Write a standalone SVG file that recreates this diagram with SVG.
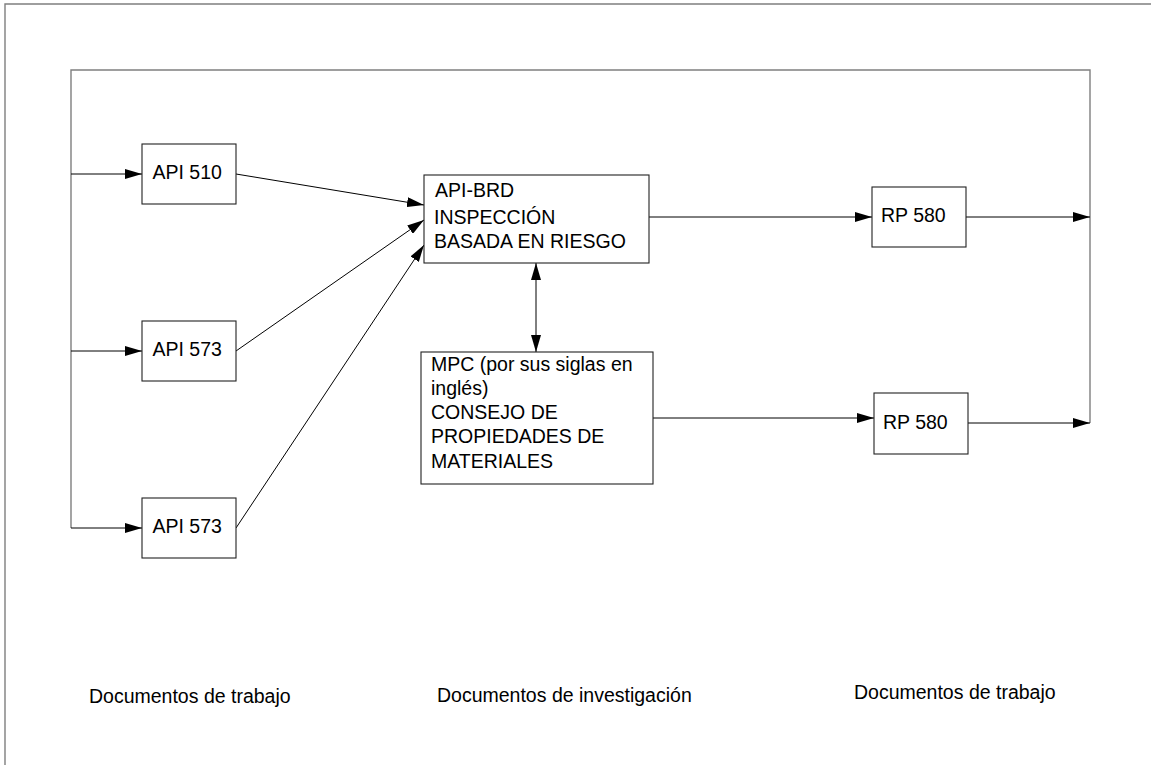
<svg xmlns="http://www.w3.org/2000/svg" width="1151" height="765" viewBox="0 0 1151 765">
<style>
.frame{fill:none;stroke:#7f7f7f;stroke-width:1.4}
.box{fill:#fff;stroke:#222;stroke-width:1.1}
.con{fill:none;stroke:#000;stroke-width:1}
.t{font-family:"Liberation Sans",Arial,sans-serif;font-size:19.5px;fill:#000}
.lbl{font-family:"Liberation Sans",Arial,sans-serif;font-size:19.5px;fill:#000}
</style>
<defs>
<marker id="ah" markerUnits="userSpaceOnUse" markerWidth="17" markerHeight="10" refX="17" refY="5" orient="auto-start-reverse">
<path d="M0,0 L17,5 L0,10 Z" fill="#000"/>
</marker>
</defs>
<rect width="1151" height="765" fill="#fff"/>
<g id="frame">
<path class="frame" d="M5,765 V4 H1151"/>
<path class="frame" d="M71,528 V70 H1090 V423"/>
</g>
<g id="connectors">
<line class="con" x1="71" y1="174" x2="142" y2="174" marker-end="url(#ah)"/>
<line class="con" x1="71" y1="351" x2="142" y2="351" marker-end="url(#ah)"/>
<line class="con" x1="71" y1="528" x2="142" y2="528" marker-end="url(#ah)"/>
<line class="con" x1="236" y1="174" x2="424" y2="205" marker-end="url(#ah)"/>
<line class="con" x1="236" y1="351" x2="424" y2="220" marker-end="url(#ah)"/>
<line class="con" x1="236" y1="528" x2="424" y2="245" marker-end="url(#ah)"/>
<line class="con" x1="536" y1="263" x2="536" y2="352" marker-start="url(#ah)" marker-end="url(#ah)"/>
<line class="con" x1="649" y1="217" x2="872" y2="217" marker-end="url(#ah)"/>
<line class="con" x1="653" y1="418" x2="874" y2="418" marker-end="url(#ah)"/>
<line class="con" x1="966" y1="217" x2="1090" y2="217" marker-end="url(#ah)"/>
<line class="con" x1="968" y1="423" x2="1090" y2="423" marker-end="url(#ah)"/>
</g>
<g id="api510">
<rect class="box" x="142" y="144" width="94" height="60"/>
<text class="t" x="152.5" y="179">API 510</text>
</g>
<g id="api573a">
<rect class="box" x="142" y="321" width="94" height="60"/>
<text class="t" x="152.5" y="356">API 573</text>
</g>
<g id="api573b">
<rect class="box" x="142" y="498" width="94" height="60"/>
<text class="t" x="152.5" y="533">API 573</text>
</g>
<g id="apibrd">
<rect class="box" x="424" y="175" width="225" height="88"/>
<text class="t" x="435" y="197">API-BRD</text>
<text class="t" x="434" y="224">INSPECCIÓN</text>
<text class="t" x="434" y="248">BASADA EN RIESGO</text>
</g>
<g id="mpc">
<rect class="box" x="421" y="352" width="232" height="132"/>
<text class="t" x="431" y="371">MPC (por sus siglas en</text>
<text class="t" x="431" y="395">inglés)</text>
<text class="t" x="431" y="419">CONSEJO DE</text>
<text class="t" x="431" y="443">PROPIEDADES DE</text>
<text class="t" x="431" y="468">MATERIALES</text>
</g>
<g id="rp580a">
<rect class="box" x="872" y="187" width="94" height="60"/>
<text class="t" x="881" y="222">RP 580</text>
</g>
<g id="rp580b">
<rect class="box" x="874" y="393" width="94" height="61"/>
<text class="t" x="883" y="429">RP 580</text>
</g>
<g id="labels">
<text class="lbl" x="89" y="703">Documentos de trabajo</text>
<text class="lbl" x="437" y="702">Documentos de investigación</text>
<text class="lbl" x="854" y="699">Documentos de trabajo</text>
</g>
</svg>
